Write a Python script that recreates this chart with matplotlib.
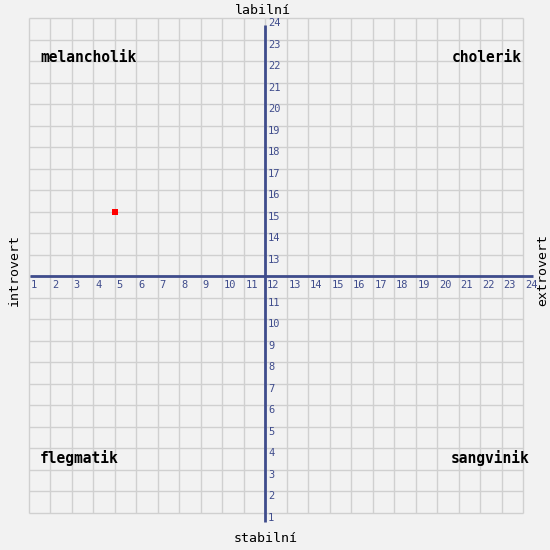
import matplotlib
matplotlib.use("Agg")
import matplotlib.pyplot as plt

# data
ticks = list(range(1, 25))
x_labels = [str(t) for t in ticks]
y_labels = [str(t) for t in ticks]
axis_value = 12
point_x = [5]
point_y = [15]
quadrants = ["melancholik", "cholerik", "flegmatik", "sangvinik"]
axis_titles = {"top": "labilní", "bottom": "stabilní", "left": "introvert", "right": "extrovert"}

BG = "#f2f2f2"
GRID = "#d0d0d0"
AX = "#3f4c8c"

W = H = 550
fig = plt.figure(figsize=(5.5, 5.5), dpi=100, facecolor=BG)
ax = fig.add_axes([0, 0, 1, 1])
ax.set_facecolor(BG)
ax.set_axis_off()

# pixel mapping: x px = 28.5 + (v-1)*21.5 ; y px = 18.3 + (24-v)*21.5
sp = 21.5
ax.set_xlim(1 - 28.5 / sp, 1 + (W - 28.5) / sp)
ax.set_ylim(24 - (H - 18.3) / sp, 24 + 18.3 / sp)

lo, hi = min(ticks), max(ticks)
ax.vlines(ticks, lo, hi, color=GRID, lw=1.0, zorder=1)
ax.hlines(ticks, lo, hi, color=GRID, lw=1.0, zorder=1)

# axis lines
ax.plot([1.07, 24.45], [axis_value, axis_value], color=AX, lw=2, zorder=2, solid_capstyle="butt")
ax.plot([axis_value, axis_value], [23.69, 0.59], color=AX, lw=2, zorder=2, solid_capstyle="butt")

mono = "DejaVu Sans Mono"
for t, lab in zip(ticks, x_labels):
    ax.annotate(lab, (t, axis_value), xytext=(2, -9), textcoords="offset pixels",
                ha="left", va="center", fontsize=7.5, color=AX, family=mono, zorder=3)
for t, lab in zip(ticks, y_labels):
    if t == axis_value:
        continue  # coincides with the x label at the origin
    ax.annotate(lab, (axis_value, t), xytext=(3, -5), textcoords="offset pixels",
                ha="left", va="center", fontsize=7.5, color=AX, family=mono, zorder=3)

ax.scatter(point_x, point_y, marker="s", s=20, color="#ff0000", zorder=4, linewidths=0)

qfs = 10.5
fig.text(40 / W, 1 - 58 / H, quadrants[0], ha="left", va="center", fontsize=qfs, fontweight="bold", family=mono)
fig.text(522 / W, 1 - 58 / H, quadrants[1], ha="right", va="center", fontsize=qfs, fontweight="bold", family=mono)
fig.text(40 / W, 1 - 458 / H, quadrants[2], ha="left", va="center", fontsize=qfs, fontweight="bold", family=mono)
fig.text(530 / W, 1 - 458 / H, quadrants[3], ha="right", va="center", fontsize=qfs, fontweight="bold", family=mono)

tfs = 9.5
fig.text(263 / W, 1 - 10 / H, axis_titles["top"], ha="center", va="center", fontsize=tfs, family=mono)
fig.text(266 / W, 1 - 538 / H, axis_titles["bottom"], ha="center", va="center", fontsize=tfs, family=mono)
fig.text(14 / W, 1 - 270 / H, axis_titles["left"], ha="center", va="center", rotation=90, fontsize=tfs, family=mono)
fig.text(543 / W, 1 - 270 / H, axis_titles["right"], ha="center", va="center", rotation=90, fontsize=tfs, family=mono)

fig.savefig("out.png", dpi=100, facecolor=BG)
